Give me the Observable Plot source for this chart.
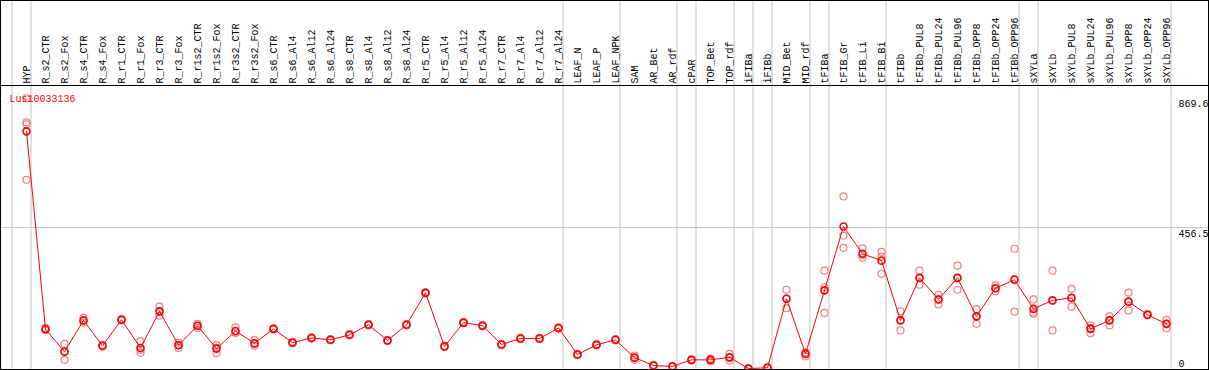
<!DOCTYPE html>
<html><head><meta charset="utf-8">
<script src="https://cdn.jsdelivr.net/npm/d3@7"></script>
<script src="https://cdn.jsdelivr.net/npm/@observablehq/plot@0.6"></script>
<style>
html,body{margin:0;padding:0;background:#fff;}
#wrap{position:relative;width:1209px;height:370px;overflow:hidden;}
#border{position:absolute;left:0;top:0;width:1209px;height:370px;box-sizing:border-box;border:1px solid #000;pointer-events:none;}
</style></head><body>
<div id="wrap"><div id="chart"></div><div id="border"></div></div>
<script>
const geneId = "Lus10033136";
const categories = ["HYP","R_s2_CTR","R_s2_Fox","R_s4_CTR","R_s4_Fox","R_r1_CTR","R_r1_Fox","R_r3_CTR","R_r3_Fox",
  "R_r1s2_CTR","R_r1s2_Fox","R_r3s2_CTR","R_r3s2_Fox","R_s6_CTR","R_s6_Al4","R_s6_Al12","R_s6_Al24",
  "R_s8_CTR","R_s8_Al4","R_s8_Al12","R_s8_Al24","R_r5_CTR","R_r5_Al4","R_r5_Al12","R_r5_Al24",
  "R_r7_CTR","R_r7_Al4","R_r7_Al12","R_r7_Al24","LEAF_N","LEAF_P","LEAF_NPK","SAM","AR_Bet","AR_rdf",
  "cPAR","TOP_Bet","TOP_rdf","iFIBa","iFIBb","MID_Bet","MID_rdf","tFIBa","tFIB_Gr","tFIB_Li","tFIB_Bi",
  "tFIBb","tFIBb_PUL8","tFIBb_PUL24","tFIBb_PUL96","tFIBb_OPP8","tFIBb_OPP24","tFIBb_OPP96",
  "sXYLa","sXYLb","sXYLb_PUL8","sXYLb_PUL24","sXYLb_PUL96","sXYLb_OPP8","sXYLb_OPP24","sXYLb_OPP96"];
const meanValues = [764,132,60,160,79,162,72,189,81,143,70,126,87,133,89,104,98,114,146,96,146,248,77,153,143,
  83,102,102,136,51,82,98,41,16,13,34,34,42,6,9,229,53,256,460,373,351,160,296,227,296,173,263,290,
  197,224,232,133,160,220,178,149];
const replicateValues = [
  [869.6,793,786,609],[136,130,129],[85,61,34],[168,160,153],[81,79,77],[164,162,160],[94,66,57],[204,189,175],
  [89,81,72],[149,143,136],[81,73,55],[138,120,121],[98,84,79],[135,133,131],[91,89,87],[106,104,102],
  [100,98,96],[116,114,112],[148,146,144],[98,96,94],[148,146,144],[250,248,246],[79,77,75],[155,153,151],
  [145,143,141],[85,83,81],[104,102,100],[104,102,100],[138,136,134],[53,51,49],[84,82,80],[100,98,96],
  [48,41,34],[18,16,14],[15,13,11],[36,34,32],[38,35,29],[53,41,32],[7,6,5],[10,9,8],[258,230,199],
  [58,56,45],[319,266,184],[556,431,392],[390,369,360],[379,364,309],[189,162,128],[319,296,274],
  [242,228,211],[335,296,258],[196,173,149],[272,263,253],[389,292,188],[227,185,181],[319,224,128],
  [261,232,204],[144,136,119],[173,162,144],[249,220,192],[180,178,176],[162,150,135]];
const yTicks = [0, 456.5, 869.6];
const gridValues = [456.5];
const separatorAfter = [-1,0,28,31,34,35,37,38,39,41,42,45,52,53,60];

const mono = "Liberation Mono";
const reps = replicateValues.flatMap((vals, i) => vals.map(v => ({i, v})));

const chart = Plot.plot({
  width: 1209, height: 370,
  marginTop: 85, marginBottom: 0, marginLeft: 0, marginRight: 0,
  style: {fontFamily: mono, fontSize: "10px", background: "#fff"},
  x: {type: "linear", domain: [0, categories.length - 1], range: [26, 1166], axis: null},
  y: {domain: [0, 869.6], range: [370, 97.8], axis: null},
  marks: [
    Plot.ruleY(gridValues, {stroke: "#c4c4c4", strokeWidth: 1}),
    Plot.ruleX(separatorAfter, {x: d => d, dx: 4.5, stroke: "#c4c4c4", strokeWidth: 1, insetTop: -85}),
    Plot.frame({anchor: "top", stroke: "#000"}),
    Plot.text(categories, {x: (d, i) => i, text: d => d, frameAnchor: "top", dy: -2, rotate: -90,
      textAnchor: "start", lineAnchor: "middle", fontSize: 10, fontFamily: mono, fill: "#000"}),
    Plot.dot(reps, {x: "i", y: "v", r: 3.5, stroke: "#f08080", strokeWidth: 1.2, fill: "none"}),
    Plot.line(meanValues, {x: (d, i) => i, y: d => d, stroke: "#ff0000", strokeWidth: 1}),
    Plot.dot(meanValues, {x: (d, i) => i, y: d => d, r: 3.5, stroke: "#ff0000", strokeWidth: 1.6, fill: "none"}),
    Plot.text(yTicks.filter(d => d > 0), {y: d => d, text: d => String(d), frameAnchor: "right", dx: -31,
      textAnchor: "start", lineAnchor: "top", dy: 2, fontSize: 10, fontFamily: mono, fill: "#000"}),
    Plot.text(yTicks.filter(d => d === 0), {y: d => d, text: d => String(d), frameAnchor: "right", dx: -31,
      textAnchor: "start", lineAnchor: "bottom", dy: -4, fontSize: 10, fontFamily: mono, fill: "#000"}),
    Plot.text([geneId], {frameAnchor: "top-left", dx: 9, dy: 13, textAnchor: "start", lineAnchor: "middle",
      fill: "#ff0000", fontSize: 10, fontFamily: mono})
  ]
});
document.getElementById("chart").appendChild(chart);
</script>
</body></html>
